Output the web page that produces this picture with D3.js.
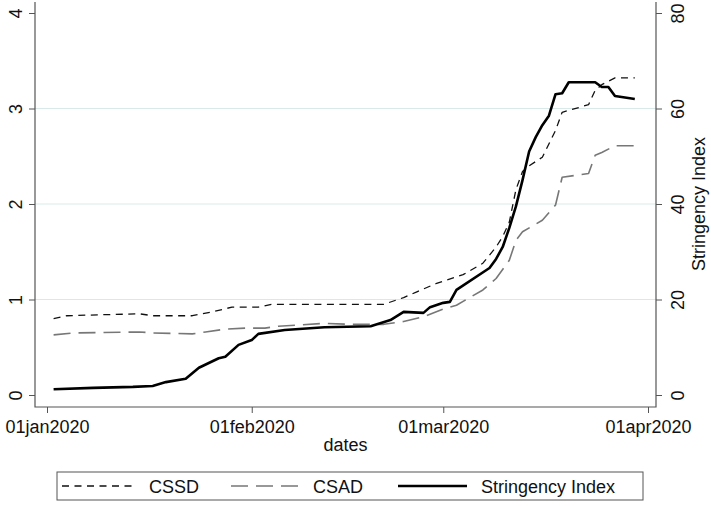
<!DOCTYPE html>
<html>
<head>
<meta charset="utf-8">
<script src="https://cdn.jsdelivr.net/npm/d3@7"></script>
<style>
  html, body { margin: 0; padding: 0; background: #fff; }
  svg text { font-family: "Liberation Sans", Arial, Helvetica, sans-serif; fill: #111; }
</style>
</head>
<body>
<svg id="chart" width="711" height="506"></svg>
<script>
// ---- data ----
const cssdDates = ["2020-01-02","2020-01-04","2020-01-09","2020-01-15","2020-01-17","2020-01-23","2020-01-26","2020-01-29","2020-02-02","2020-02-04","2020-02-21","2020-02-24","2020-02-26","2020-02-29","2020-03-04","2020-03-07","2020-03-09","2020-03-10","2020-03-11","2020-03-12","2020-03-13","2020-03-14","2020-03-16","2020-03-18","2020-03-19","2020-03-23","2020-03-24","2020-03-25","2020-03-27","2020-03-30"];
const cssdValues = [0.80,0.83,0.84,0.85,0.83,0.83,0.87,0.92,0.92,0.95,0.95,1.02,1.08,1.17,1.26,1.38,1.55,1.66,1.81,2.15,2.34,2.40,2.49,2.77,2.96,3.04,3.19,3.25,3.32,3.32];

const csadDates = ["2020-01-02","2020-01-05","2020-01-15","2020-01-17","2020-01-23","2020-01-25","2020-01-28","2020-01-31","2020-02-03","2020-02-05","2020-02-12","2020-02-16","2020-02-21","2020-02-24","2020-02-27","2020-03-01","2020-03-03","2020-03-07","2020-03-09","2020-03-11","2020-03-12","2020-03-13","2020-03-16","2020-03-18","2020-03-19","2020-03-23","2020-03-24","2020-03-25","2020-03-27","2020-03-30"];
const csadValues = [0.63,0.65,0.66,0.65,0.64,0.66,0.69,0.70,0.70,0.72,0.75,0.74,0.74,0.77,0.82,0.90,0.94,1.10,1.22,1.41,1.62,1.71,1.83,1.99,2.28,2.32,2.51,2.54,2.61,2.61];

const siDates = ["2020-01-02","2020-01-08","2020-01-14","2020-01-17","2020-01-19","2020-01-22","2020-01-24","2020-01-27","2020-01-28","2020-01-30","2020-02-01","2020-02-02","2020-02-06","2020-02-12","2020-02-19","2020-02-22","2020-02-24","2020-02-27","2020-02-28","2020-03-01","2020-03-02","2020-03-03","2020-03-08","2020-03-09","2020-03-10","2020-03-11","2020-03-12","2020-03-13","2020-03-14","2020-03-15","2020-03-16","2020-03-17","2020-03-18","2020-03-19","2020-03-20","2020-03-24","2020-03-25","2020-03-26","2020-03-27","2020-03-30"];
const siValues = [1.2,1.5,1.7,1.9,2.7,3.4,5.7,7.7,8.0,10.5,11.5,12.8,13.6,14.2,14.4,15.7,17.4,17.2,18.4,19.3,19.5,22.0,26.6,28.5,31.0,35.0,39.5,45.0,51.0,54.0,56.5,58.5,63.0,63.2,65.5,65.5,64.5,64.5,62.6,62.0];

const leftTicks = [0,1,2,3,4];
const rightTicks = [0,20,40,60,80];
const xTickDates = ["2020-01-01","2020-02-01","2020-03-01","2020-04-01"];
const legendLabels = ["CSSD","CSAD","Stringency Index"];
const xTitle = "dates";
const rightTitle = "Stringency Index";

// ---- layout ----
const svg = d3.select("#chart");
const plotLeft = 35, plotRight = 656, plotTop = 2, plotBottom = 407;
const parse = d3.utcParse("%Y-%m-%d");
const DAY = 86400000;
const jan1 = parse("2020-01-01").getTime();

const x = d3.scaleUtc()
  .domain([new Date(jan1 - 1.817 * DAY), new Date(jan1 + 92.21 * DAY)])
  .range([plotLeft, plotRight]);
const yL = d3.scaleLinear().domain([0, 4]).range([395, 13]);
const yR = d3.scaleLinear().domain([0, 80]).range([395, 13]);

const axisColor = "#555";
const gridColor = "#d9e9ea";

// gridlines
svg.append("g").selectAll("line").data([1,2,3]).join("line")
  .attr("x1", plotLeft).attr("x2", plotRight)
  .attr("y1", d => yL(d)).attr("y2", d => yL(d))
  .attr("stroke", gridColor).attr("stroke-width", 1.2);

// left axis
const gL = svg.append("g").attr("transform", `translate(${plotLeft},0)`)
  .call(d3.axisLeft(yL).tickValues(leftTicks).tickSize(6).tickPadding(4).tickFormat(d3.format("d")));
gL.select(".domain").remove();
gL.selectAll(".tick line").attr("stroke", axisColor);
gL.selectAll(".tick text")
  .attr("x", null).attr("dy", null)
  .attr("text-anchor", "middle")
  .attr("transform", "translate(-13,0) rotate(-90)")
  .style("font-size", "18px");

// right axis
const gR = svg.append("g").attr("transform", `translate(${plotRight},0)`)
  .call(d3.axisRight(yR).tickValues(rightTicks).tickSize(6).tickFormat(d3.format("d")));
gR.select(".domain").remove();
gR.selectAll(".tick line").attr("stroke", axisColor);
gR.selectAll(".tick text")
  .attr("x", null).attr("dy", null)
  .attr("text-anchor", "middle")
  .attr("transform", "translate(28,0) rotate(-90)")
  .style("font-size", "18px");

// bottom axis
const gB = svg.append("g").attr("transform", `translate(0,${plotBottom})`)
  .call(d3.axisBottom(x).tickValues(xTickDates.map(parse)).tickSize(6).tickPadding(6)
    .tickFormat(d => d3.utcFormat("%d%b%Y")(d).toLowerCase()));
gB.select(".domain").remove();
gB.selectAll(".tick line").attr("stroke", axisColor);
gB.selectAll(".tick text").attr("dy", null).attr("y", 26).style("font-size", "18px");

// frame lines (left, right, bottom)
svg.append("path")
  .attr("d", `M${plotLeft},${plotTop}V${plotBottom}H${plotRight}V${plotTop}`)
  .attr("fill", "none").attr("stroke", axisColor).attr("stroke-width", 1.2);

// titles
svg.append("text").attr("x", (plotLeft + plotRight) / 2).attr("y", 451)
  .attr("text-anchor", "middle").style("font-size", "18px").text(xTitle);
svg.append("text")
  .attr("transform", `translate(705,${(yL(0) + yL(4)) / 2}) rotate(-90)`)
  .attr("text-anchor", "middle").style("font-size", "18px").text(rightTitle);

// series
const styles = [
  { color: "#111", width: 1.3, dash: "7,5.5" },
  { color: "#777", width: 1.6, dash: "17,8" },
  { color: "#000", width: 2.6, dash: null }
];
const series = [
  { dates: cssdDates, values: cssdValues, y: yL },
  { dates: csadDates, values: csadValues, y: yL },
  { dates: siDates, values: siValues, y: yR }
];
series.forEach((s, i) => {
  const pts = s.dates.map((d, j) => [parse(d), s.values[j]]);
  const line = d3.line().x(p => x(p[0])).y(p => s.y(p[1]));
  svg.append("path").datum(pts)
    .attr("d", line)
    .attr("fill", "none")
    .attr("stroke", styles[i].color)
    .attr("stroke-width", styles[i].width)
    .attr("stroke-dasharray", styles[i].dash)
    .attr("stroke-linejoin", "round");
});

// legend
const lg = svg.append("g");
lg.append("rect").attr("x", 57).attr("y", 472).attr("width", 586).attr("height", 28)
  .attr("fill", "#fff").attr("stroke", axisColor).attr("stroke-width", 1);
const legendPos = [
  { x1: 62, x2: 137, tx: 149 },
  { x1: 231, x2: 302, tx: 313 },
  { x1: 398, x2: 467, tx: 481 }
];
legendLabels.forEach((lab, i) => {
  const p = legendPos[i];
  lg.append("line").attr("x1", p.x1).attr("x2", p.x2).attr("y1", 486).attr("y2", 486)
    .attr("stroke", styles[i].color).attr("stroke-width", styles[i].width)
    .attr("stroke-dasharray", styles[i].dash);
  lg.append("text").attr("x", p.tx).attr("y", 492.5).style("font-size", "18px").text(lab);
});
</script>
</body>
</html>
